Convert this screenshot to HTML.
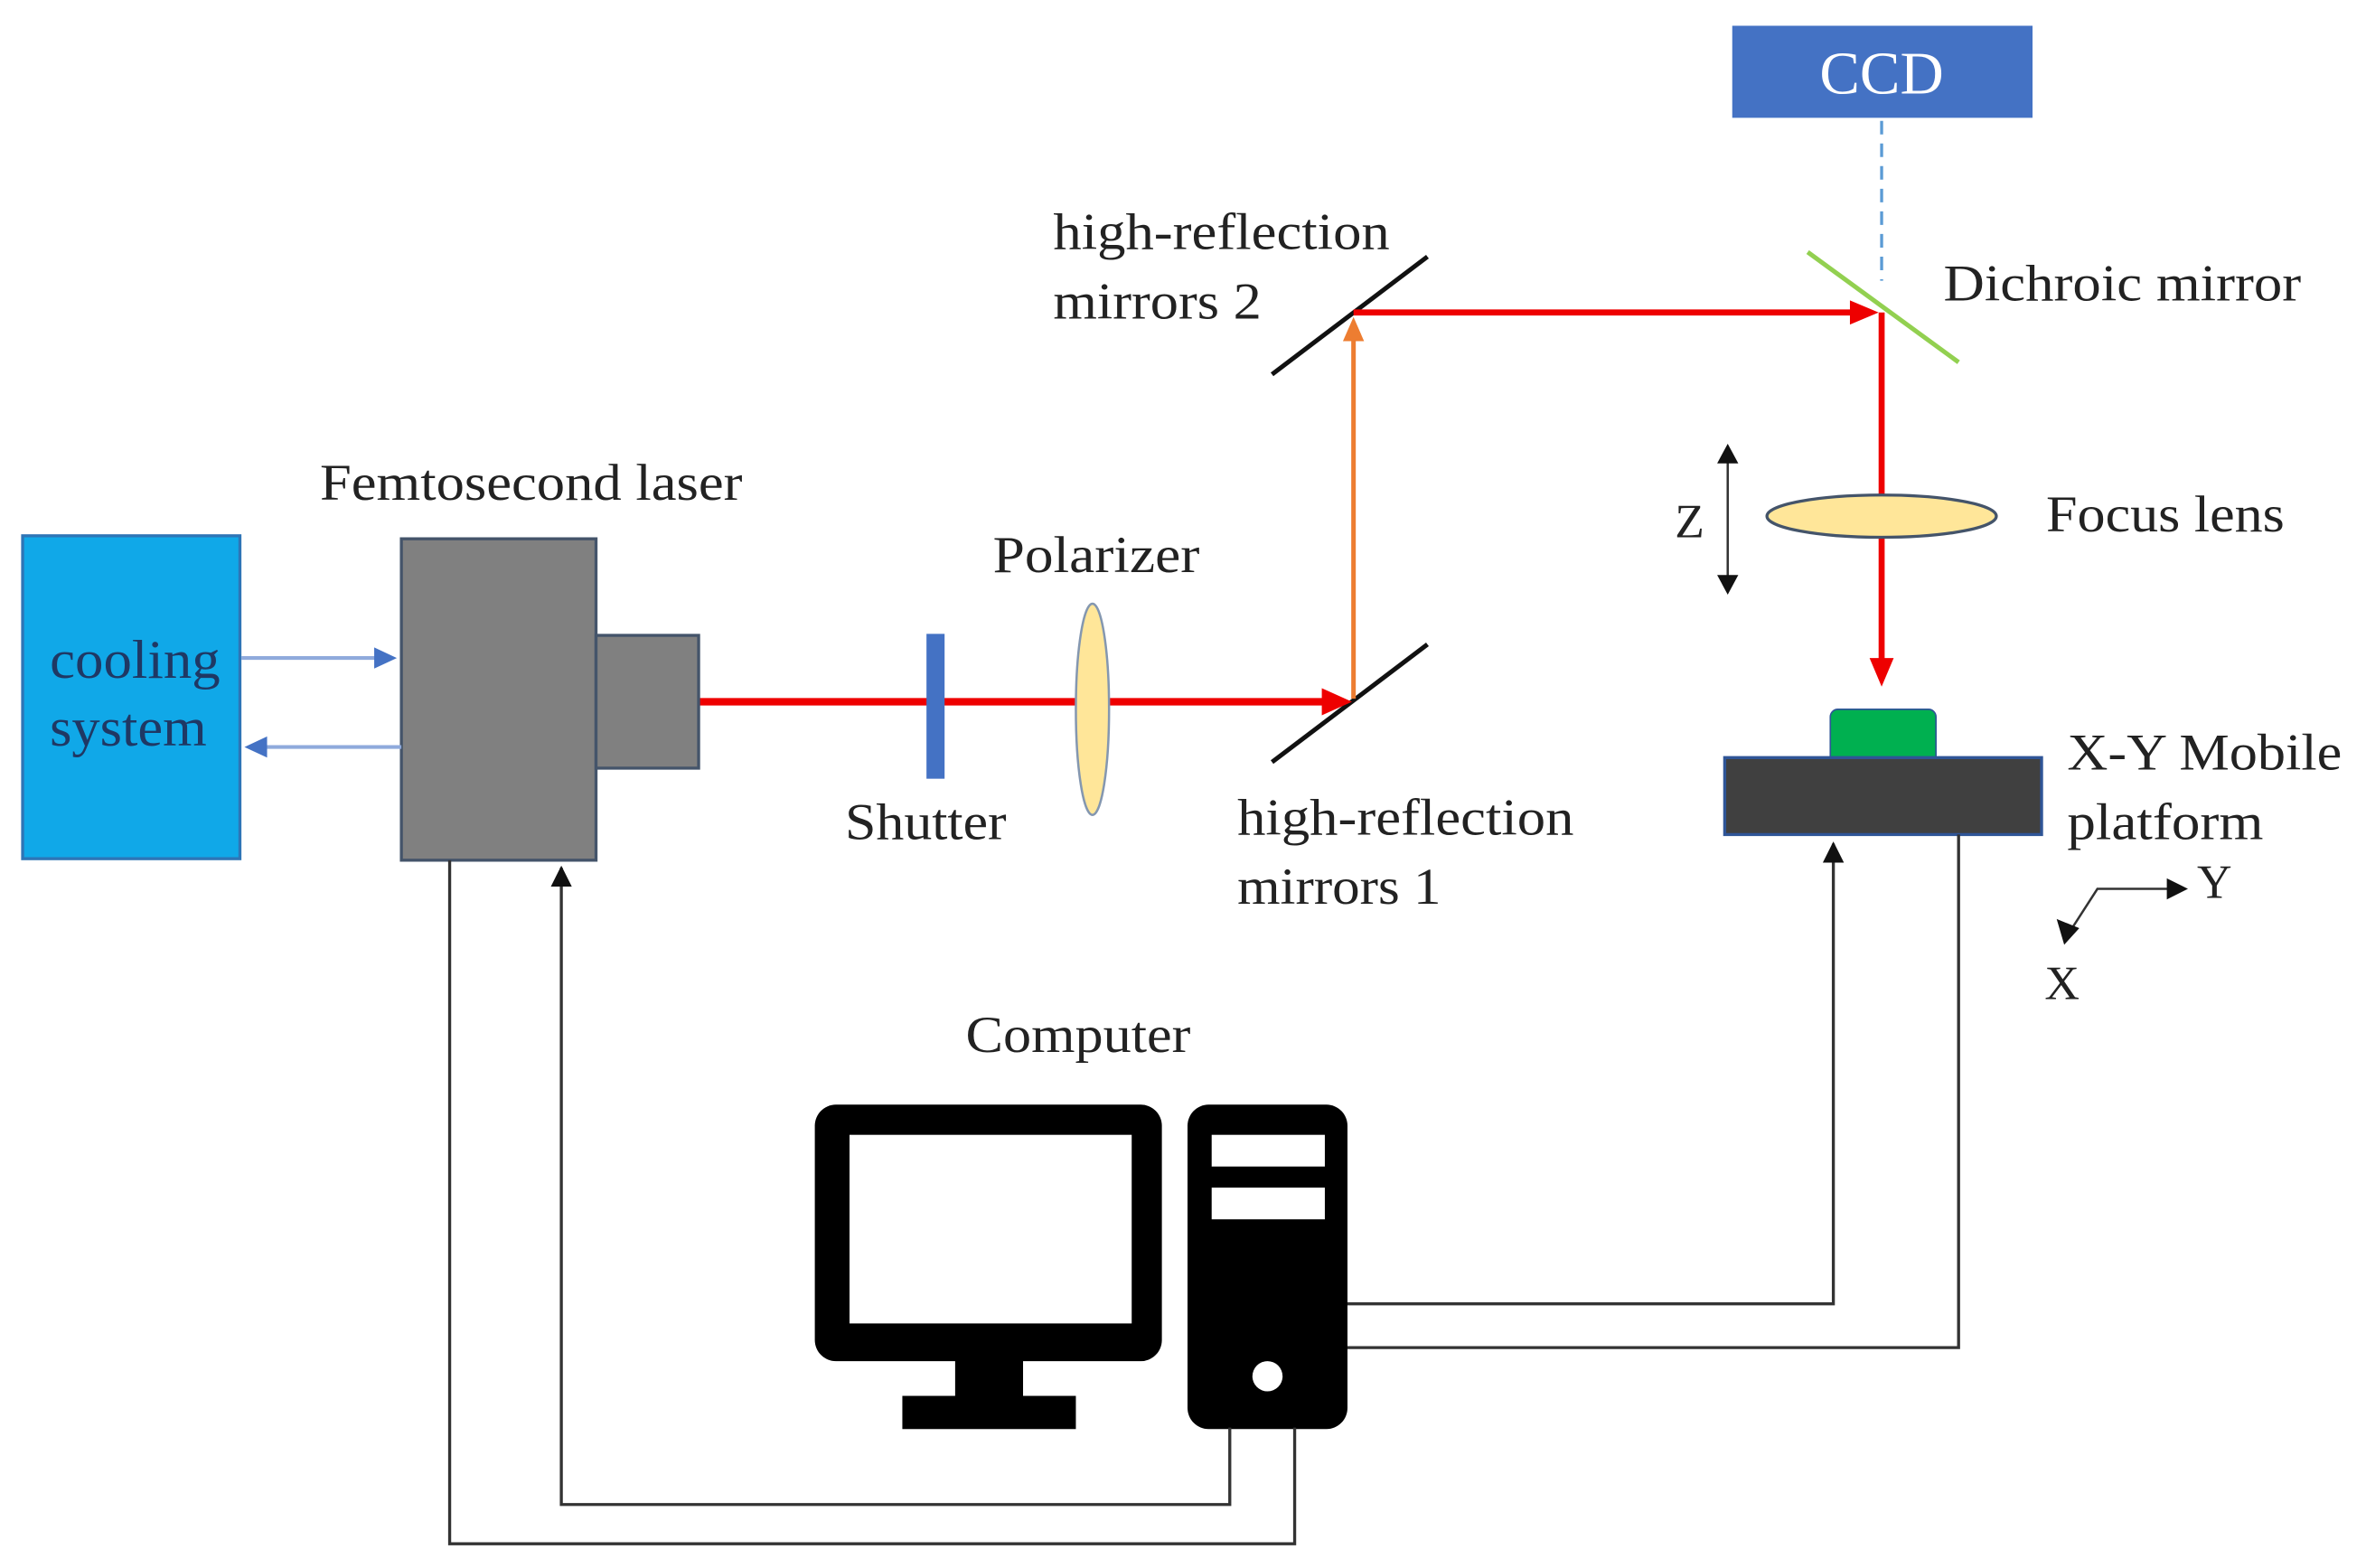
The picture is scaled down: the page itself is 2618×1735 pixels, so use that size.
<!DOCTYPE html>
<html><head><meta charset="utf-8"><style>
html,body{margin:0;padding:0;background:#fff;}
svg{display:block;}
text{font-family:"Liberation Serif",serif;fill:#222;}
</style></head><body>
<svg width="2618" height="1735" viewBox="0 0 1568 1039" xmlns="http://www.w3.org/2000/svg">
<defs>
<marker id="ak" viewBox="0 0 10 10" refX="9" refY="5" markerWidth="7" markerHeight="7" orient="auto"><path d="M0,0L10,5L0,10z" fill="#111"/></marker>
</defs>
<rect width="1568" height="1039" fill="#fff"/>
<!-- CCD -->
<rect x="1148" y="17" width="199" height="61" fill="#4472C4"/>
<text x="1247" y="62" font-size="40" text-anchor="middle" style="fill:#fff">CCD</text>
<line x1="1247" y1="80" x2="1247" y2="186" stroke="#5B9BD5" stroke-width="2" stroke-dasharray="9,6"/>
<line x1="1198" y1="167" x2="1298" y2="240" stroke="#92D050" stroke-width="3"/>
<text x="1288" y="199" font-size="34" textLength="237" lengthAdjust="spacingAndGlyphs">Dichroic mirror</text>
<!-- mirrors -->
<text x="698" y="165" font-size="34" textLength="223" lengthAdjust="spacingAndGlyphs">high-reflection</text>
<text x="698" y="211" font-size="34" textLength="138" lengthAdjust="spacingAndGlyphs">mirrors 2</text>
<line x1="843" y1="248" x2="946" y2="170" stroke="#111" stroke-width="3"/>
<line x1="843" y1="505" x2="946" y2="427" stroke="#111" stroke-width="3"/>
<text x="820" y="553" font-size="34" textLength="223" lengthAdjust="spacingAndGlyphs">high-reflection</text>
<text x="820" y="599" font-size="34" textLength="135" lengthAdjust="spacingAndGlyphs">mirrors 1</text>
<!-- beams -->
<line x1="463" y1="465" x2="880" y2="465" stroke="#e00" stroke-width="5"/>
<path d="M876,456L896,465L876,474z" fill="#e00"/>
<line x1="897" y1="463" x2="897" y2="225" stroke="#ED7D31" stroke-width="3"/>
<path d="M890,226L897,210L904,226z" fill="#ED7D31"/>
<line x1="897" y1="207" x2="1230" y2="207" stroke="#e00" stroke-width="4"/>
<path d="M1226,199L1245,207L1226,215z" fill="#e00"/>
<line x1="1247" y1="207" x2="1247" y2="440" stroke="#e00" stroke-width="4"/>
<path d="M1239,436L1247,455L1255,436z" fill="#e00"/>
<!-- shutter polarizer -->
<rect x="614" y="420" width="12" height="96" fill="#4472C4"/>
<text x="560" y="556" font-size="34" textLength="107" lengthAdjust="spacingAndGlyphs">Shutter</text>
<ellipse cx="724" cy="470" rx="11" ry="70" fill="#FFE699" stroke="#8497B0" stroke-width="1.5"/>
<text x="658" y="379" font-size="34" textLength="137" lengthAdjust="spacingAndGlyphs">Polarizer</text>
<!-- laser -->
<text x="212" y="331" font-size="34" textLength="280" lengthAdjust="spacingAndGlyphs">Femtosecond laser</text>
<rect x="266" y="357" width="129" height="213" fill="#808080" stroke="#44546A" stroke-width="2"/>
<rect x="395" y="421" width="68" height="88" fill="#808080" stroke="#44546A" stroke-width="2"/>
<!-- cooling -->
<rect x="15" y="355" width="144" height="214" fill="#10A8E8" stroke="#2E75B6" stroke-width="2"/>
<text x="33" y="449" font-size="36" textLength="113" lengthAdjust="spacingAndGlyphs" style="fill:#1F3864">cooling</text>
<text x="33" y="494" font-size="36" textLength="104" lengthAdjust="spacingAndGlyphs" style="fill:#1F3864">system</text>
<line x1="160" y1="436" x2="250" y2="436" stroke="#8FAADC" stroke-width="2.5"/>
<path d="M248,429L263,436L248,443z" fill="#4472C4"/>
<line x1="266" y1="495" x2="175" y2="495" stroke="#8FAADC" stroke-width="2.5"/>
<path d="M177,488L162,495L177,502z" fill="#4472C4"/>
<!-- focus lens -->
<ellipse cx="1247" cy="342" rx="76" ry="14" fill="#FFE699" stroke="#44546A" stroke-width="2"/>
<text x="1356" y="352" font-size="34" textLength="158" lengthAdjust="spacingAndGlyphs">Focus lens</text>
<line x1="1145" y1="300" x2="1145" y2="388" stroke="#333" stroke-width="1.5"/>
<path d="M1138,307L1145,294L1152,307z M1138,381L1145,394L1152,381z" fill="#111"/>
<text x="1110" y="356" font-size="32">Z</text>
<!-- platform -->
<rect x="1213" y="470" width="70" height="36" rx="5" fill="#00B050" stroke="#2F5597" stroke-width="1"/>
<rect x="1143" y="502" width="210" height="51" fill="#404040" stroke="#2F5597" stroke-width="2"/>
<text x="1370" y="510" font-size="34" textLength="182" lengthAdjust="spacingAndGlyphs">X-Y Mobile</text>
<text x="1370" y="556" font-size="34" textLength="130" lengthAdjust="spacingAndGlyphs">platform</text>
<polyline points="1370,620 1390,589 1438,589" fill="none" stroke="#333" stroke-width="1.5"/>
<path d="M1436,582L1450,589L1436,596z M1363,609L1368,626L1378,615z" fill="#111"/>
<text x="1456" y="595" font-size="32">Y</text>
<text x="1355" y="662" font-size="32">X</text>
<!-- computer -->
<text x="640" y="697" font-size="34" textLength="149" lengthAdjust="spacingAndGlyphs">Computer</text>
<rect x="540" y="732" width="230" height="170" rx="14" fill="#000"/>
<rect x="563" y="752" width="187" height="125" fill="#fff"/>
<rect x="633" y="900" width="45" height="27" fill="#000"/>
<rect x="598" y="925" width="115" height="22" fill="#000"/>
<rect x="787" y="732" width="106" height="215" rx="14" fill="#000"/>
<rect x="803" y="752" width="75" height="21" fill="#fff"/>
<rect x="803" y="787" width="75" height="21" fill="#fff"/>
<circle cx="840" cy="912" r="10" fill="#fff"/>
<!-- wires -->
<polyline points="298,570 298,1023 858,1023 858,946" fill="none" stroke="#333" stroke-width="2"/>
<polyline points="815,946 815,997 372,997 372,575" fill="none" stroke="#333" stroke-width="2" marker-end="url(#ak)"/>
<polyline points="893,864 1215,864 1215,559" fill="none" stroke="#333" stroke-width="2" marker-end="url(#ak)"/>
<polyline points="893,893 1298,893 1298,553" fill="none" stroke="#333" stroke-width="2"/>
</svg>
</body></html>
